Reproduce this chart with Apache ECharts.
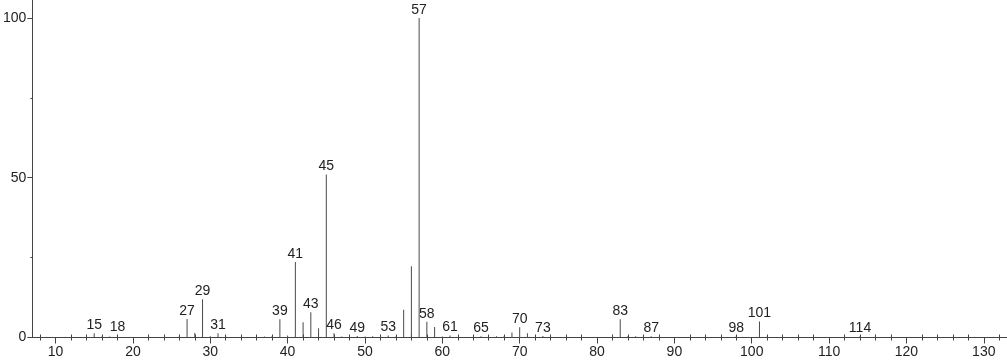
<!DOCTYPE html>
<html>
<head>
<meta charset="utf-8">
<script src="https://cdn.jsdelivr.net/npm/echarts@6/dist/echarts.min.js"></script>
<style>
html,body{margin:0;padding:0;background:#fff;}
#c{width:1007px;height:362px;}
</style>
</head>
<body>
<div id="c"></div>
<script>
// m/z values and relative intensities
const mz = [14, 15, 16, 17, 18, 26, 27, 28, 29, 30, 31, 32, 37, 38, 39, 40, 41, 42, 43, 44, 45, 46, 47, 49, 50, 51, 53, 54, 55, 56, 57, 58, 59, 60, 61, 65, 67, 68, 69, 70, 71, 73, 74, 83, 84, 85, 87, 98, 101, 102, 114];
const intensity = [0.4, 1.3, 0.3, 0.3, 0.8, 0.4, 5.8, 1.4, 12.0, 0.4, 1.3, 0.3, 0.3, 0.5, 5.7, 0.6, 23.6, 4.8, 7.9, 2.9, 51.0, 1.3, 0.3, 0.5, 0.3, 0.4, 0.6, 0.3, 8.7, 22.3, 100, 4.9, 3.3, 0.3, 0.6, 0.4, 0.4, 0.5, 1.6, 3.2, 1.3, 0.5, 0.3, 5.7, 0.5, 0.4, 0.4, 0.5, 5.0, 0.3, 0.4];
const labeledPeaks = [15, 18, 27, 29, 31, 39, 41, 43, 45, 46, 49, 53, 57, 58, 61, 65, 70, 73, 83, 87, 98, 101, 114];
const xMajorTicks = [10, 20, 30, 40, 50, 60, 70, 80, 90, 100, 110, 120, 130];
const xMinorTicks = [8, 12, 14, 16, 18, 22, 24, 26, 28, 32, 34, 36, 38, 42, 44, 46, 48, 52, 54, 56, 58, 62, 64, 66, 68, 72, 74, 76, 78, 82, 84, 86, 88, 92, 94, 96, 98, 102, 104, 106, 108, 112, 114, 116, 118, 122, 124, 126, 128, 132];
const yMajorTicks = [0, 50, 100];
const yMinorTicks = [25, 75];

const font = 'Arial, "Liberation Sans", sans-serif';
const axisColor = '#444';
const data = mz.map((m, i) => ({
  value: [m, intensity[i]],
  label: { show: labeledPeaks.indexOf(m) >= 0 }
}));

const chart = echarts.init(document.getElementById('c'));
const xCommon = { type: 'value', min: 7, max: 133, splitLine: { show: false } };
const yCommon = { type: 'value', min: 0, max: 105.6, splitLine: { show: false } };
chart.setOption({
  animation: false,
  backgroundColor: '#fff',
  grid: { left: 30, right: 0, top: 0, bottom: 24.5, containLabel: false },
  xAxis: [
    Object.assign({}, xCommon, {
      axisLine: { show: true, lineStyle: { color: axisColor, width: 1 } },
      axisTick: { show: true, customValues: xMajorTicks, length: 6, lineStyle: { color: axisColor } },
      axisLabel: { show: true, customValues: xMajorTicks, margin: 8, color: '#222', fontSize: 14, fontFamily: font }
    }),
    Object.assign({}, xCommon, {
      position: 'bottom',
      axisLine: { show: false },
      axisTick: { show: true, customValues: xMinorTicks, length: 3, inside: true, lineStyle: { color: axisColor } },
      axisLabel: { show: false }
    }),
    Object.assign({}, xCommon, {
      position: 'bottom',
      axisLine: { show: false },
      axisTick: { show: true, customValues: xMinorTicks, length: 3, inside: false, lineStyle: { color: axisColor } },
      axisLabel: { show: false }
    })
  ],
  yAxis: [
    Object.assign({}, yCommon, {
      axisLine: { show: true, lineStyle: { color: axisColor, width: 1 } },
      axisTick: { show: true, customValues: yMajorTicks, length: 5, lineStyle: { color: axisColor } },
      axisLabel: { show: true, customValues: yMajorTicks, margin: 6, color: '#222', fontSize: 14, fontFamily: font }
    }),
    Object.assign({}, yCommon, {
      position: 'left',
      axisLine: { show: false },
      axisTick: { show: true, customValues: yMinorTicks, length: 2, lineStyle: { color: axisColor } },
      axisLabel: { show: false }
    })
  ],
  series: [{
    type: 'bar',
    xAxisIndex: 0,
    yAxisIndex: 0,
    barWidth: 1,
    itemStyle: { color: '#4a4a4a' },
    label: {
      position: 'top', distance: 1, color: '#222', fontSize: 14, fontFamily: font,
      formatter: p => String(p.value[0])
    },
    data: data
  }]
});
</script>
</body>
</html>
